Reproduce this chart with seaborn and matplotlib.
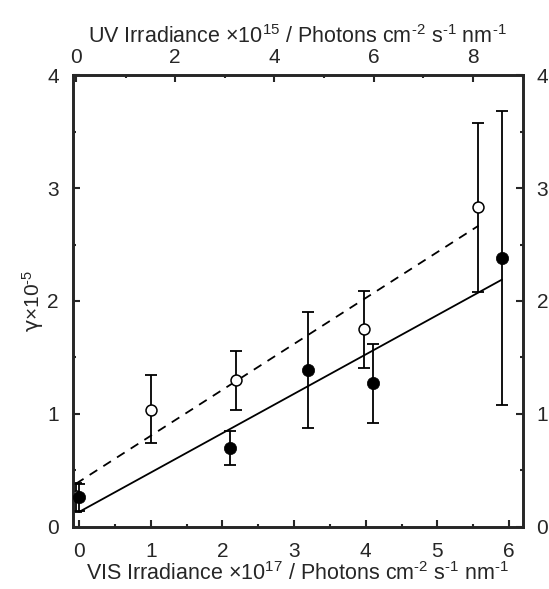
import numpy as np
import pandas as pd
import matplotlib
matplotlib.use("Agg")
import matplotlib.pyplot as plt
from matplotlib.ticker import MultipleLocator
import seaborn as sns

# VIS irradiance series (bottom axis, x 1e17 photons cm-2 s-1 nm-1)
vis_x = [0.0, 2.10, 3.20, 4.10, 5.90]
vis_y = [0.26, 0.70, 1.39, 1.27, 2.38]
vis_lo = [0.14, 0.55, 0.87, 0.92, 1.08]
vis_hi = [0.38, 0.85, 1.90, 1.62, 3.68]
vis_slope, vis_intercept = 0.349, 0.13

# UV irradiance series (top axis, x 1e15 photons cm-2 s-1 nm-1)
uv_x = [0.0, 1.51, 3.22, 5.81, 8.11]
uv_y = [0.27, 1.03, 1.30, 1.75, 2.83]
uv_lo = [0.13, 0.74, 1.03, 1.41, 2.08]
uv_hi = [0.39, 1.34, 1.56, 2.09, 3.58]
uv_slope, uv_intercept = 0.282, 0.38

vis_ticks = [0, 1, 2, 3, 4, 5, 6]
uv_ticks = [0, 2, 4, 6, 8]
y_ticks = [0, 1, 2, 3, 4]

sns.set_style("ticks")
plt.rcParams["font.family"] = ["Liberation Sans", "DejaVu Sans"]
plt.rcParams["mathtext.fontset"] = "custom"
plt.rcParams["mathtext.rm"] = "Liberation Sans"
plt.rcParams["mathtext.it"] = "Liberation Sans:italic"
plt.rcParams["mathtext.sf"] = "DejaVu Sans"

vis = pd.DataFrame({"x": vis_x, "y": vis_y, "lo": vis_lo, "hi": vis_hi})
uv = pd.DataFrame({"x": uv_x, "y": uv_y, "lo": uv_lo, "hi": uv_hi})

fig = plt.figure(figsize=(5.49, 5.89), dpi=100)
ax = fig.add_axes([0.1324, 0.106, 0.8196, 0.766])
ax2 = ax.twiny()
# UV layer sits underneath the VIS layer
ax2.set_zorder(ax.get_zorder() - 1)
ax.patch.set_visible(False)

lw = 1.3
# UV data: open circles, dashed fit
ax2.errorbar(uv["x"], uv["y"], yerr=[uv["y"] - uv["lo"], uv["hi"] - uv["y"]],
             fmt="none", ecolor="black", elinewidth=lw, capsize=4.5, capthick=lw)
uv_fit = pd.DataFrame({"x": [0.0, max(uv_x)]})
uv_fit["y"] = uv_intercept + uv_slope * uv_fit["x"]
sns.lineplot(data=uv_fit, x="x", y="y", ax=ax2, color="black", lw=lw,
             dashes=False, linestyle=(0, (5, 4)))
sns.scatterplot(data=uv, x="x", y="y", ax=ax2, marker="o", s=62,
                facecolor="white", edgecolor="black", linewidth=1.1, zorder=3)

# VIS data: filled circles, solid fit
ax.errorbar(vis["x"], vis["y"], yerr=[vis["y"] - vis["lo"], vis["hi"] - vis["y"]],
            fmt="none", ecolor="black", elinewidth=lw, capsize=4.5, capthick=lw)
vis_fit = pd.DataFrame({"x": [0.0, max(vis_x)]})
vis_fit["y"] = vis_intercept + vis_slope * vis_fit["x"]
sns.lineplot(data=vis_fit, x="x", y="y", ax=ax, color="black", lw=lw)
sns.scatterplot(data=vis, x="x", y="y", ax=ax, marker="o", s=78,
                color="black", edgecolor="black", linewidth=0.5, zorder=3)

ax.set_xlim(-0.09, 6.19)
ax2.set_xlim(-0.066, 9.0)
ax.set_ylim(0, 4)

ax.set_xticks(vis_ticks)
ax.xaxis.set_minor_locator(MultipleLocator(0.5))
ax2.set_xticks(uv_ticks)
ax2.xaxis.set_minor_locator(MultipleLocator(1))
ax.set_yticks(y_ticks)
ax.yaxis.set_minor_locator(MultipleLocator(0.5))

fs_tick = 15
fs_lab = 15.5
ax.tick_params(axis="both", which="major", direction="in", length=5, width=1.5,
               labelsize=fs_tick, pad=10, top=False, right=True, labelright=True)
ax.tick_params(axis="both", which="minor", direction="in", length=2.5, width=1.5,
               top=False, right=True)
ax.tick_params(axis="x", which="major", pad=11)
ax2.tick_params(axis="x", which="major", direction="in", length=5, width=1.5,
                labelsize=fs_tick, pad=6)
ax2.tick_params(axis="x", which="minor", direction="in", length=2.5, width=1.5)

for a in (ax, ax2):
    for s in a.spines.values():
        s.set_visible(True)
        s.set_linewidth(1.9)

ax.set_xlabel(r"VIS Irradiance $\times$10$^{\text{17}}$ / Photons cm$^{\text{-2}}$ s$^{\text{-1}}$ nm$^{\text{-1}}$",
              fontsize=fs_lab, labelpad=1)
ax2.set_xlabel(r"UV Irradiance $\times$10$^{\text{15}}$ / Photons cm$^{\text{-2}}$ s$^{\text{-1}}$ nm$^{\text{-1}}$",
               fontsize=fs_lab, labelpad=4)
ax.set_ylabel(r"$\mathsf{\gamma}$$\times$10$^{\text{-5}}$", fontsize=15, labelpad=1)
ax2.set_ylabel("")

fig.savefig("out.png", dpi=100, facecolor="white")
